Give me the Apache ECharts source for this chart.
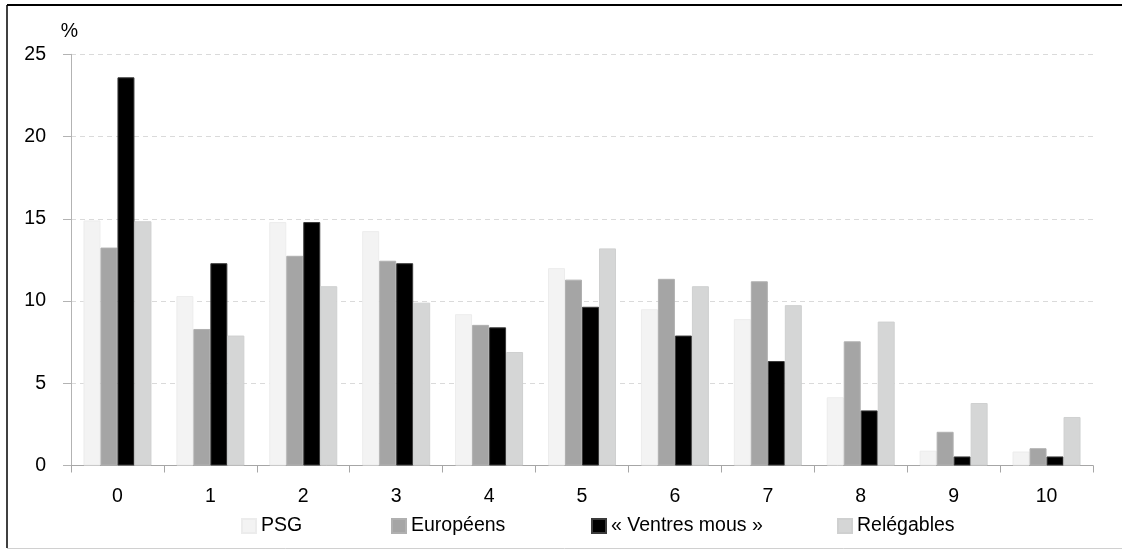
<!DOCTYPE html>
<html>
<head>
<meta charset="utf-8">
<script src="https://cdn.jsdelivr.net/npm/echarts@6/dist/echarts.min.js"></script>
<style>
  html, body { margin: 0; padding: 0; background: #fff; }
  #chart { width: 1122px; height: 550px; }
</style>
</head>
<body>
<div id="chart"></div>
<script>
// Nombre de matchs (0 à 10) — répartition en % par groupe de clubs
const categories = ['0', '1', '2', '3', '4', '5', '6', '7', '8', '9', '10'];
const psg        = [14.9, 10.3, 14.8, 14.25, 9.2, 12.0, 9.5, 8.9, 4.15, 0.9, 0.85];
const europeens  = [13.25, 8.3, 12.75, 12.45, 8.55, 11.3, 11.35, 11.2, 7.55, 2.05, 1.05];
const ventresMous = [23.6, 12.3, 14.8, 12.3, 8.4, 9.65, 7.9, 6.35, 3.35, 0.55, 0.55];
const relegables = [14.85, 7.9, 10.9, 9.9, 6.9, 13.2, 10.9, 9.75, 8.75, 3.8, 2.95];
const seriesNames = ['PSG', 'Européens', '« Ventres mous »', 'Relégables'];
const yTicks = [0, 5, 10, 15, 20, 25];

const FONT = '"Liberation Sans", Arial, sans-serif';
const FS = 19.5;
const colors = ['#f3f3f3', '#a5a5a5', '#000000', '#d5d6d6'];
const borders = ['#ececec', '#b0b0b0', '#3a3a3a', '#cfd0d0'];
const values = [psg, europeens, ventresMous, relegables];

const chart = echarts.init(document.getElementById('chart'), null, { renderer: 'canvas' });

// position horizontale de chaque entrée de légende
const legendLeft = [236, 386, 586, 832];

chart.setOption({
  animation: false,
  backgroundColor: '#ffffff',
  textStyle: { fontFamily: FONT },
  grid: { left: 71, right: 29, top: 54.3, bottom: 84.5, containLabel: false },
  legend: seriesNames.map((name, i) => ({
    data: [name],
    left: legendLeft[i],
    top: 511,
    icon: 'rect',
    itemWidth: 14,
    itemHeight: 14,
    itemGap: 0,
    selectedMode: false,
    textStyle: { fontFamily: FONT, fontSize: FS, color: '#000' }
  })),
  xAxis: {
    type: 'category',
    data: categories,
    axisLine: { lineStyle: { color: '#a6a6a6', width: 1 } },
    axisTick: { show: true, length: 7, lineStyle: { color: '#a6a6a6' } },
    axisLabel: { fontFamily: FONT, fontSize: FS, color: '#000', margin: 21 }
  },
  yAxis: {
    type: 'value',
    min: yTicks[0],
    max: yTicks[yTicks.length - 1],
    interval: 5,
    name: '%',
    nameLocation: 'end',
    nameGap: 23,
    nameTextStyle: { fontFamily: FONT, fontSize: FS, color: '#000', align: 'center', verticalAlign: 'middle', padding: [0, 3, 0, 0] },
    axisLine: { show: true, lineStyle: { color: '#b3b3b3', width: 1 } },
    axisTick: { show: true, length: 8, lineStyle: { color: '#b3b3b3' } },
    axisLabel: { fontFamily: FONT, fontSize: FS, color: '#000', margin: 25 },
    splitLine: { show: true, lineStyle: { color: '#dadada', width: 1, type: [5, 4] } }
  },
  series: seriesNames.map((name, i) => ({
    name: name,
    type: 'bar',
    data: values[i],
    barWidth: 17,
    barGap: '0%',
    itemStyle: { color: colors[i], borderColor: borders[i], borderWidth: 1 }
  })),
  graphic: [
    // cadre
    { type: 'line', shape: { x1: 7, y1: 5, x2: 1122, y2: 5 }, style: { stroke: '#000', lineWidth: 2 }, silent: true },
    { type: 'line', shape: { x1: 7, y1: 5, x2: 7, y2: 548 }, style: { stroke: '#000', lineWidth: 1.5 }, silent: true },
    { type: 'line', shape: { x1: 7, y1: 548.5, x2: 1122, y2: 548.5 }, style: { stroke: '#d0d0d0', lineWidth: 1 }, silent: true }
  ]
});
</script>
</body>
</html>
